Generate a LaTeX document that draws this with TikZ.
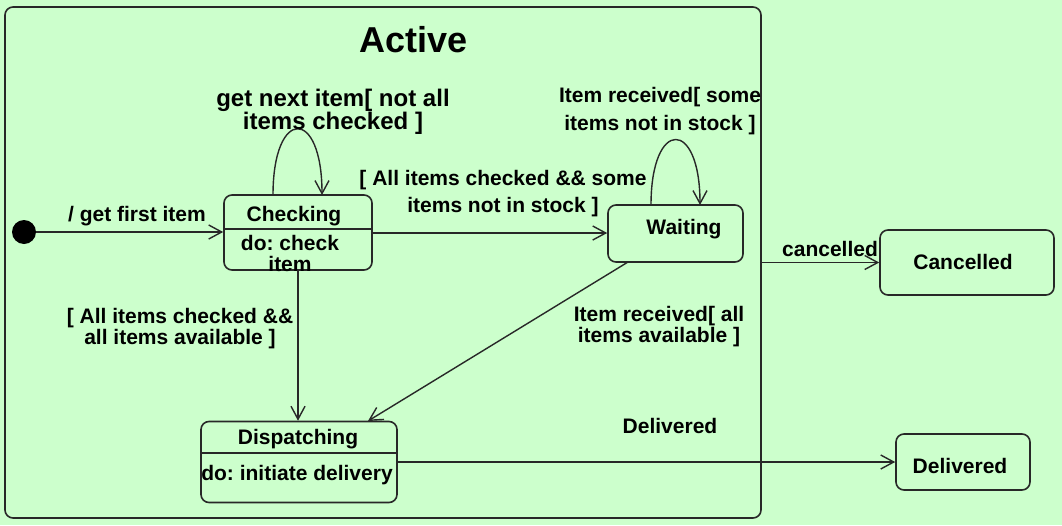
\documentclass[tikz,border=0pt]{standalone}
\usepackage{fontspec}
\setmainfont{Liberation Sans}
\usetikzlibrary{arrows.meta}
\frenchspacing
\definecolor{bg}{RGB}{204,255,204}
\definecolor{ln}{RGB}{40,40,40}
\tikzset{
  statebox/.style={draw=ln, line width=1.6pt, rounded corners=8pt, inner sep=0pt},
  txt/.style={font=\bfseries\fontsize{21}{21}\selectfont, align=center, inner sep=0pt, text=black, yshift=-2pt},
  conn/.style={draw=ln, line width=1.4pt, -{Straight Barb[length=13pt,width=14pt,line width=1.4pt]}},
  plain/.style={draw=ln, line width=1.4pt}
}
\begin{document}
\frenchspacing
\begin{tikzpicture}[x=1pt,y=-1pt]
\fill[bg] (0,0) rectangle (1062,525);
\useasboundingbox (0,0) rectangle (1062,525);
% Active composite state
\node[statebox, minimum width=756pt, minimum height=511pt] (active) at (383,262.5) {};
\node[txt, font=\bfseries\fontsize{36}{36}\selectfont] (activeT) at (414,38) {Active};
% initial
\node[circle, fill=black, minimum size=24pt, inner sep=0pt] (init) at (24,232) {};
% states
\node[statebox, minimum width=148pt, minimum height=75pt] (chk) at (298,232.5) {};
\node[txt] (chkT) at (294,214) {Checking};
\node[txt, font=\bfseries\fontsize{21}{21}\selectfont] (chkD) at (290,251.5) {do: check\\item};
\draw[plain] (chk.west |- 0,229) -- (chk.east |- 0,229);
\node[statebox, minimum width=135pt, minimum height=57pt] (wait) at (675.5,233.5) {};
\node[txt] (waitT) at (684,227) {Waiting};
\node[statebox, minimum width=196pt, minimum height=81pt] (disp) at (299,462) {};
\node[txt] (dispT) at (298,437) {Dispatching};
\node[txt] (dispD) at (297,473) {do: initiate delivery};
\draw[plain] (disp.west |- 0,453) -- (disp.east |- 0,453);
\node[statebox, minimum width=174pt, minimum height=65pt] (can) at (967,262.5) {};
\node[txt] (canT) at (963,260) {Cancelled};
\node[statebox, minimum width=134pt, minimum height=56pt] (del) at (963,462) {};
\node[txt] (delT) at (960,464) {Delivered};
% connectors
\draw[conn] (init) -- (chk.west |- init);
\node[txt] (l1) at (137,214) {/ get first item};
\coordinate (cl1) at (273,195);
\coordinate (cl2) at (322,195);
\draw[conn] (cl1) .. controls (273,107) and (322,107) .. (cl2);
\node[txt, font=\bfseries\fontsize{24}{21}\selectfont] (l2) at (333,110) {get next item[ not all\\items checked ]};
\draw[conn] (chk.east |- 0,233) -- (wait.west |- 0,233);
\node[txt, font=\bfseries\fontsize{21}{27}\selectfont] (l3) at (503,191.5) {[ All items checked \&\& some\\items not in stock ]};
\coordinate (wl1) at (651,205);
\coordinate (wl2) at (700,205);
\draw[conn] (wl1) .. controls (651,118) and (700,118) .. (wl2);
\node[txt, font=\bfseries\fontsize{21}{28}\selectfont] (l4) at (660,109) {Item received[ some\\items not in stock ]};
\draw[conn] (chk.south) -- (chk.south |- disp.north);
\node[txt, font=\bfseries\fontsize{21}{19}\selectfont] (l5) at (180,326.5) {[ All items checked \&\&\\all items available ]};
\coordinate (ws) at (628,262);
\coordinate (dn) at (368,421);
\draw[conn] (ws) -- (dn);
\node[txt] (l6) at (659,324.5) {Item received[ all\\items available ]};
\draw[conn] (active.east |- can.west) -- (can.west);
\node[txt] (l7) at (830,247) {cancelled};
\draw[conn] (disp.east) -- (del.west);
\node[txt] (l8) at (670,424) {Delivered};
\end{tikzpicture}
\end{document}
